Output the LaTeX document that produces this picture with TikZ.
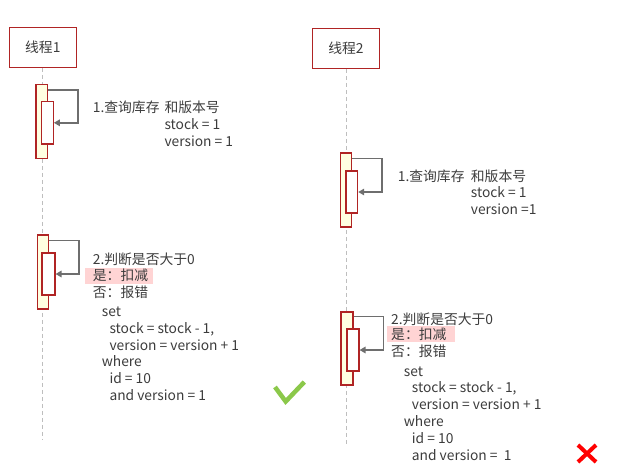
\documentclass[tikz,border=0pt]{standalone}
\usepackage{fontspec}
\setmainfont{Noto Sans CJK SC}
\usetikzlibrary{arrows.meta}
\definecolor{txt}{RGB}{60,60,60}
\definecolor{boxred}{RGB}{176,36,36}
\definecolor{actfill}{RGB}{255,255,225}
\definecolor{arrowgray}{RGB}{110,110,110}
\definecolor{lifegray}{RGB}{190,190,190}
\definecolor{hlpink}{RGB}{255,212,212}
\definecolor{okgreen}{RGB}{139,200,74}
\begin{document}
\begin{tikzpicture}[x=1pt,y=-1pt,
  every node/.style={font=\fontsize{13.8}{16}\selectfont, text=txt},
  threadbox/.style={draw=boxred, line width=1.1pt, fill=white, minimum width=67.5pt, minimum height=40pt, inner sep=0pt},
  actouter/.style={draw=boxred, line width=1.1pt, fill=actfill, minimum width=11.5pt, minimum height=74pt, inner sep=0pt},
  actinner/.style={draw=boxred, line width=1.1pt, fill=white, minimum width=12pt, minimum height=42pt, inner sep=0pt},
  selfarrow/.style={draw=arrowgray, line width=1.8pt, -{Triangle[length=6pt,width=6.5pt]}},
  lifeline/.style={draw=lifegray, line width=0.9pt, dash pattern=on 4pt off 3pt},
  lbl/.style={anchor=west, inner sep=0pt, text height=9pt, text depth=3pt},
  hl/.style={fill=hlpink, draw=none, inner sep=0pt}
]
\useasboundingbox (0,0) rectangle (624,469);
% thread heads
\node[threadbox] (t1) at (42.8,47.3) {线程1};
\node[threadbox] (t2) at (346,48.3) {线程2};
% lifelines
\coordinate (e1) at (42.3,440);
\coordinate (e2) at (346.7,445);
\draw[lifeline] (t1.south -| e1) -- (e1);
\draw[lifeline] (t2.south -| e2) -- (e2);
% thread 1 activation 1
\node[actouter] (a1) at (41.7,121.3) {};
\node[actinner, minimum height=42.3pt] (i1) at (47.3,122.8) {};
\draw[selfarrow] ([yshift=-6pt]a1.north east) -- ++(30,0) |- (i1.east);
\node[lbl] (q1a) at (92.7,109.8) {1.查询库存};
\node[lbl] (q1b) at (164.3,109.8) {和版本号};
\node[lbl] (q1c) at (164.3,126.5) {stock = 1};
\node[lbl] (q1d) at (164.3,143.2) {version = 1};
% thread 1 activation 2
\node[actouter] (a2) at (43,272) {};
\node[actinner, minimum width=13pt] (i2) at (48.5,274) {};
\draw[selfarrow] ([yshift=-6pt]a2.north east) -- ++(30,0) |- (i2.east);
\fill[hlpink] (85,267.7) rectangle (152.7,284);
\node[lbl] (j1a) at (92.7,261.2) {2.判断是否大于0};
\node[lbl] (j1b) at (92.7,277.2) {是：扣减};
\node[lbl] (j1c) at (92.7,294.5) {否：报错};
\node[lbl] (j1d) at (101.7,313.8) {set};
\node[lbl] (j1e) at (109.3,330.5) {stock = stock - 1,};
\node[lbl] (j1f) at (109.3,347.2) {version = version + 1};
\node[lbl] (j1g) at (101.7,363.8) {where};
\node[lbl] (j1h) at (109.3,380.5) {id = 10};
\node[lbl] (j1i) at (109.3,397.2) {and version = 1};
% thread 2 activation 1
\node[actouter, minimum width=11.3pt] (a3) at (345.7,190) {};
\node[actinner, minimum width=11.7pt] (i3) at (351.8,192) {};
\draw[selfarrow] ([yshift=-6pt]a3.north east) -- ++(30.4,0) |- (i3.east);
\node[lbl] (q2a) at (397.7,178.8) {1.查询库存};
\node[lbl] (q2b) at (470.7,178.8) {和版本号};
\node[lbl] (q2c) at (470.7,194.5) {stock = 1};
\node[lbl] (q2d) at (470.7,211.5) {version =1};
% thread 2 activation 2
\node[actouter, minimum width=12pt, minimum height=73pt] (a4) at (347,348.5) {};
\node[actinner] (i4) at (353,350) {};
\draw[selfarrow] ([yshift=-5pt]a4.north east) -- ++(30,0) |- (i4.east);
\fill[hlpink] (387,326) rectangle (455,342);
\node[lbl] (j2a) at (391,321.2) {2.判断是否大于0};
\node[lbl] (j2b) at (391,336.5) {是：扣减};
\node[lbl] (j2c) at (391,353.8) {否：报错};
\node[lbl] (j2d) at (403.7,373.2) {set};
\node[lbl] (j2e) at (411.7,389.8) {stock = stock - 1,};
\node[lbl] (j2f) at (411.7,406.5) {version = version + 1};
\node[lbl] (j2g) at (403.7,423.5) {where};
\node[lbl] (j2h) at (411.7,440.5) {id = 10};
\node[lbl] (j2i) at (411.7,457) {and version =\ \ 1};
% marks
\draw[okgreen, line width=4.5pt] (275,387) -- (285.7,401.5) -- (304.3,382);
\draw[red, line width=4pt] (578,445) -- (596,462) (596,445) -- (578,462);
\end{tikzpicture}
\end{document}
